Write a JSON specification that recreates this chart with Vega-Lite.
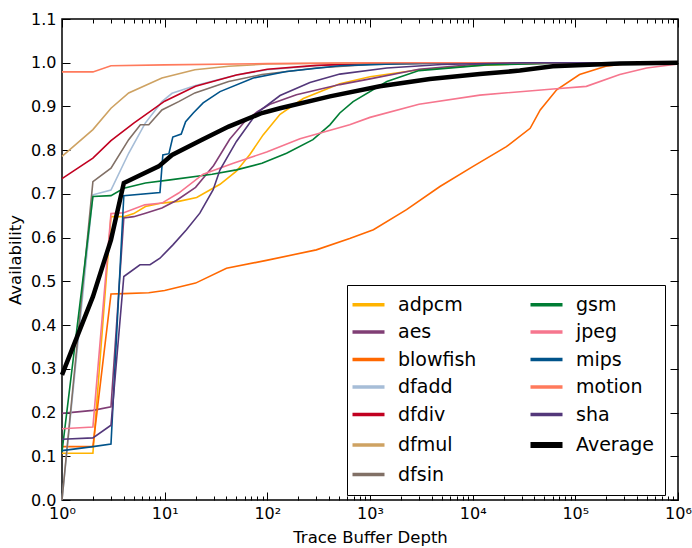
{
  "$schema": "https://vega.github.io/schema/vega-lite/v6.json",
  "width": 616,
  "height": 481,
  "autosize": {"type": "none"},
  "padding": {"left": 62, "top": 19, "right": 14, "bottom": 48},
  "background": "white",
  "config": {
    "font": "DejaVu Sans",
    "view": {"stroke": "black", "strokeWidth": 1.5},
    "axis": {"grid": false, "domain": false, "tickColor": "black", "tickWidth": 1, "labelColor": "black", "titleColor": "black", "labelFont": "DejaVu Sans", "titleFont": "DejaVu Sans", "titleFontWeight": "normal", "labelFontSize": 16, "titleFontSize": 16.5, "labelOverlap": false, "labelFlush": false}
  },
  "data": {"values": [
    {"s":"adpcm","x":1,"y":0.107},{"s":"adpcm","x":2,"y":0.107},{"s":"adpcm","x":3,"y":0.648},{"s":"adpcm","x":4,"y":0.648},{"s":"adpcm","x":5,"y":0.655},{"s":"adpcm","x":6.5,"y":0.671},{"s":"adpcm","x":9.4,"y":0.679},{"s":"adpcm","x":13.7,"y":0.683},{"s":"adpcm","x":20.5,"y":0.692},{"s":"adpcm","x":34.6,"y":0.722},{"s":"adpcm","x":50,"y":0.752},{"s":"adpcm","x":67.6,"y":0.79},{"s":"adpcm","x":91,"y":0.835},{"s":"adpcm","x":133,"y":0.882},{"s":"adpcm","x":224,"y":0.918},{"s":"adpcm","x":508,"y":0.952},{"s":"adpcm","x":1000,"y":0.968},{"s":"adpcm","x":3000,"y":0.984},{"s":"adpcm","x":10000,"y":0.993},{"s":"adpcm","x":30000,"y":0.998},{"s":"adpcm","x":100000,"y":1.0},{"s":"adpcm","x":1000000,"y":1.0},
    {"s":"aes","x":1,"y":0.198},{"s":"aes","x":2,"y":0.205},{"s":"aes","x":3,"y":0.213},{"s":"aes","x":4,"y":0.645},{"s":"aes","x":5,"y":0.648},{"s":"aes","x":6.5,"y":0.656},{"s":"aes","x":9.4,"y":0.668},{"s":"aes","x":13,"y":0.685},{"s":"aes","x":20,"y":0.715},{"s":"aes","x":30,"y":0.765},{"s":"aes","x":43,"y":0.825},{"s":"aes","x":60,"y":0.865},{"s":"aes","x":80,"y":0.888},{"s":"aes","x":106,"y":0.905},{"s":"aes","x":192,"y":0.927},{"s":"aes","x":508,"y":0.95},{"s":"aes","x":1000,"y":0.963},{"s":"aes","x":3000,"y":0.985},{"s":"aes","x":10000,"y":0.996},{"s":"aes","x":100000,"y":1.0},{"s":"aes","x":1000000,"y":1.0},
    {"s":"blowfish","x":1,"y":0.122},{"s":"blowfish","x":2,"y":0.122},{"s":"blowfish","x":3,"y":0.471},{"s":"blowfish","x":4,"y":0.472},{"s":"blowfish","x":7,"y":0.474},{"s":"blowfish","x":10,"y":0.479},{"s":"blowfish","x":20,"y":0.496},{"s":"blowfish","x":40,"y":0.53},{"s":"blowfish","x":98,"y":0.548},{"s":"blowfish","x":300,"y":0.572},{"s":"blowfish","x":634,"y":0.598},{"s":"blowfish","x":1080,"y":0.618},{"s":"blowfish","x":2270,"y":0.664},{"s":"blowfish","x":4800,"y":0.717},{"s":"blowfish","x":10100,"y":0.763},{"s":"blowfish","x":21300,"y":0.808},{"s":"blowfish","x":36300,"y":0.85},{"s":"blowfish","x":45500,"y":0.892},{"s":"blowfish","x":65800,"y":0.938},{"s":"blowfish","x":110000,"y":0.973},{"s":"blowfish","x":198000,"y":0.992},{"s":"blowfish","x":316000,"y":0.998},{"s":"blowfish","x":1000000,"y":1.0},
    {"s":"dfadd","x":1,"y":0.0},{"s":"dfadd","x":2,"y":0.698},{"s":"dfadd","x":3,"y":0.709},{"s":"dfadd","x":4.46,"y":0.793},{"s":"dfadd","x":6.47,"y":0.862},{"s":"dfadd","x":9.4,"y":0.911},{"s":"dfadd","x":11.8,"y":0.93},{"s":"dfadd","x":20,"y":0.948},{"s":"dfadd","x":50,"y":0.972},{"s":"dfadd","x":100,"y":0.984},{"s":"dfadd","x":300,"y":0.993},{"s":"dfadd","x":1000,"y":0.998},{"s":"dfadd","x":10000,"y":1.0},{"s":"dfadd","x":1000000,"y":1.0},
    {"s":"dfdiv","x":1,"y":0.735},{"s":"dfdiv","x":2,"y":0.782},{"s":"dfdiv","x":3,"y":0.822},{"s":"dfdiv","x":5,"y":0.862},{"s":"dfdiv","x":10,"y":0.912},{"s":"dfdiv","x":20,"y":0.946},{"s":"dfdiv","x":50,"y":0.972},{"s":"dfdiv","x":100,"y":0.985},{"s":"dfdiv","x":300,"y":0.994},{"s":"dfdiv","x":1000,"y":0.998},{"s":"dfdiv","x":10000,"y":1.0},{"s":"dfdiv","x":1000000,"y":1.0},
    {"s":"dfmul","x":1,"y":0.786},{"s":"dfmul","x":2,"y":0.847},{"s":"dfmul","x":3,"y":0.896},{"s":"dfmul","x":4.46,"y":0.931},{"s":"dfmul","x":9.4,"y":0.965},{"s":"dfmul","x":19.7,"y":0.984},{"s":"dfmul","x":42,"y":0.992},{"s":"dfmul","x":100,"y":0.997},{"s":"dfmul","x":1000,"y":1.0},{"s":"dfmul","x":1000000,"y":1.0},
    {"s":"dfsin","x":1,"y":0.0},{"s":"dfsin","x":2,"y":0.728},{"s":"dfsin","x":3,"y":0.759},{"s":"dfsin","x":4.46,"y":0.824},{"s":"dfsin","x":5.8,"y":0.858},{"s":"dfsin","x":7,"y":0.858},{"s":"dfsin","x":9.4,"y":0.892},{"s":"dfsin","x":13.7,"y":0.911},{"s":"dfsin","x":19.7,"y":0.931},{"s":"dfsin","x":42,"y":0.957},{"s":"dfsin","x":88.6,"y":0.973},{"s":"dfsin","x":300,"y":0.988},{"s":"dfsin","x":1000,"y":0.996},{"s":"dfsin","x":10000,"y":1.0},{"s":"dfsin","x":1000000,"y":1.0},
    {"s":"gsm","x":1,"y":0.11},{"s":"gsm","x":2,"y":0.694},{"s":"gsm","x":3,"y":0.696},{"s":"gsm","x":4,"y":0.713},{"s":"gsm","x":6.5,"y":0.725},{"s":"gsm","x":11.3,"y":0.732},{"s":"gsm","x":29,"y":0.745},{"s":"gsm","x":50,"y":0.755},{"s":"gsm","x":88.6,"y":0.77},{"s":"gsm","x":154,"y":0.793},{"s":"gsm","x":278,"y":0.824},{"s":"gsm","x":407,"y":0.858},{"s":"gsm","x":508,"y":0.885},{"s":"gsm","x":685,"y":0.911},{"s":"gsm","x":1460,"y":0.957},{"s":"gsm","x":3000,"y":0.982},{"s":"gsm","x":13600,"y":0.995},{"s":"gsm","x":100000,"y":1.0},{"s":"gsm","x":1000000,"y":1.0},
    {"s":"jpeg","x":1,"y":0.163},{"s":"jpeg","x":2,"y":0.167},{"s":"jpeg","x":3,"y":0.655},{"s":"jpeg","x":4,"y":0.657},{"s":"jpeg","x":6.4,"y":0.675},{"s":"jpeg","x":9.4,"y":0.679},{"s":"jpeg","x":13.7,"y":0.702},{"s":"jpeg","x":23.7,"y":0.745},{"s":"jpeg","x":46.6,"y":0.77},{"s":"jpeg","x":98.5,"y":0.796},{"s":"jpeg","x":208,"y":0.826},{"s":"jpeg","x":634,"y":0.858},{"s":"jpeg","x":1000,"y":0.875},{"s":"jpeg","x":3000,"y":0.905},{"s":"jpeg","x":11750,"y":0.926},{"s":"jpeg","x":60800,"y":0.94},{"s":"jpeg","x":128000,"y":0.946},{"s":"jpeg","x":271000,"y":0.973},{"s":"jpeg","x":495000,"y":0.988},{"s":"jpeg","x":1000000,"y":0.997},
    {"s":"mips","x":1,"y":0.113},{"s":"mips","x":2,"y":0.122},{"s":"mips","x":3,"y":0.128},{"s":"mips","x":4,"y":0.696},{"s":"mips","x":9,"y":0.703},{"s":"mips","x":9.6,"y":0.789},{"s":"mips","x":11,"y":0.792},{"s":"mips","x":12,"y":0.83},{"s":"mips","x":14.5,"y":0.837},{"s":"mips","x":16,"y":0.865},{"s":"mips","x":19,"y":0.885},{"s":"mips","x":23.7,"y":0.908},{"s":"mips","x":34.6,"y":0.934},{"s":"mips","x":73,"y":0.965},{"s":"mips","x":154,"y":0.98},{"s":"mips","x":508,"y":0.993},{"s":"mips","x":2000,"y":0.998},{"s":"mips","x":10000,"y":1.0},{"s":"mips","x":1000000,"y":1.0},
    {"s":"motion","x":1,"y":0.979},{"s":"motion","x":2,"y":0.979},{"s":"motion","x":3,"y":0.993},{"s":"motion","x":10,"y":0.995},{"s":"motion","x":100,"y":0.998},{"s":"motion","x":1000,"y":1.0},{"s":"motion","x":1000000,"y":1.0},
    {"s":"sha","x":1,"y":0.139},{"s":"sha","x":2,"y":0.142},{"s":"sha","x":3,"y":0.171},{"s":"sha","x":4,"y":0.511},{"s":"sha","x":5.75,"y":0.538},{"s":"sha","x":7.2,"y":0.538},{"s":"sha","x":9,"y":0.553},{"s":"sha","x":12.1,"y":0.584},{"s":"sha","x":16.3,"y":0.618},{"s":"sha","x":22,"y":0.656},{"s":"sha","x":29.6,"y":0.709},{"s":"sha","x":34.6,"y":0.755},{"s":"sha","x":50,"y":0.82},{"s":"sha","x":78.8,"y":0.885},{"s":"sha","x":133,"y":0.925},{"s":"sha","x":260,"y":0.955},{"s":"sha","x":508,"y":0.974},{"s":"sha","x":1460,"y":0.988},{"s":"sha","x":5000,"y":0.996},{"s":"sha","x":30000,"y":1.0},{"s":"sha","x":1000000,"y":1.0},
    {"s":"Average","x":1,"y":0.286},{"s":"Average","x":2,"y":0.465},{"s":"Average","x":3,"y":0.595},{"s":"Average","x":4,"y":0.725},{"s":"Average","x":8.74,"y":0.763},{"s":"Average","x":11.8,"y":0.789},{"s":"Average","x":23.1,"y":0.824},{"s":"Average","x":42,"y":0.854},{"s":"Average","x":88.6,"y":0.885},{"s":"Average","x":132.7,"y":0.896},{"s":"Average","x":407,"y":0.923},{"s":"Average","x":1248,"y":0.946},{"s":"Average","x":3830,"y":0.963},{"s":"Average","x":11750,"y":0.974},{"s":"Average","x":28800,"y":0.982},{"s":"Average","x":60300,"y":0.992},{"s":"Average","x":271000,"y":0.998},{"s":"Average","x":1000000,"y":1.0}
  ]},
  "layer": [
    {
      "mark": {"type": "line"},
      "encoding": {
        "x": {"field": "x", "type": "quantitative",
          "scale": {"type": "log", "domain": [1, 1000000], "nice": false},
          "axis": {"orient": "bottom", "title": "Trace Buffer Depth", "titlePadding": 4,
            "values": [1,2,3,4,5,6,7,8,9,10,20,30,40,50,60,70,80,90,100,200,300,400,500,600,700,800,900,1000,2000,3000,4000,5000,6000,7000,8000,9000,10000,20000,30000,40000,50000,60000,70000,80000,90000,100000,200000,300000,400000,500000,600000,700000,800000,900000,1000000],
            "labelExpr": "abs(log(datum.value)/LN10 - round(log(datum.value)/LN10)) < 0.001 ? '10' + ['⁰','¹','²','³','⁴','⁵','⁶'][round(log(datum.value)/LN10)] : ''",
            "tickSize": {"condition": {"test": "abs(log(datum.value)/LN10 - round(log(datum.value)/LN10)) < 0.001", "value": -8}, "value": -4},
            "labelPadding": 13}},
        "y": {"field": "y", "type": "quantitative",
          "scale": {"domain": [0, 1.1], "nice": false, "zero": false},
          "axis": {"orient": "left", "title": "Availability", "values": [0,0.1,0.2,0.3,0.4,0.5,0.6,0.7,0.8,0.9,1.0,1.1], "format": ".1f", "tickSize": -8, "labelPadding": 14, "titlePadding": 7}},
        "color": {"field": "s", "type": "nominal",
          "scale": {"domain": ["adpcm","aes","blowfish","dfadd","dfdiv","dfmul","dfsin","gsm","jpeg","mips","motion","sha","Average"],
                    "range": ["#FFB300","#803E75","#FF6800","#A6BDD7","#C10020","#CEA262","#817066","#007D34","#F6768E","#00538A","#FF7A5C","#53377A","#000000"]},
          "legend": {"title": null, "orient": "none", "legendX": 285, "legendY": 266, "columns": 2, "symbolType": "stroke", "symbolSize": 1024, "symbolStrokeWidth": 3.5, "symbolOffset": 2, "labelFontSize": 19, "labelFont": "DejaVu Sans", "labelColor": "black", "labelOffset": 20, "columnPadding": 41, "rowPadding": 7.5, "padding": 10, "strokeColor": "black", "fillColor": "white", "labelLimit": 0,
            "encode": {"symbols": {"update": {"strokeWidth": {"signal": "datum.value === 'Average' ? 6 : 3.5"}}}}}},
        "strokeWidth": {"condition": {"test": "datum.s === 'Average'", "value": 4.5}, "value": 1.6}
      }
    },
    {
      "mark": {"type": "line", "opacity": 0},
      "encoding": {
        "x": {"field": "x", "type": "quantitative",
          "axis": {"orient": "top", "title": null, "labels": false,
            "values": [1,2,3,4,5,6,7,8,9,10,20,30,40,50,60,70,80,90,100,200,300,400,500,600,700,800,900,1000,2000,3000,4000,5000,6000,7000,8000,9000,10000,20000,30000,40000,50000,60000,70000,80000,90000,100000,200000,300000,400000,500000,600000,700000,800000,900000,1000000],
            "tickSize": {"condition": {"test": "abs(log(datum.value)/LN10 - round(log(datum.value)/LN10)) < 0.001", "value": -8}, "value": -4}}},
        "y": {"field": "y", "type": "quantitative",
          "axis": {"orient": "right", "title": null, "labels": false, "values": [0,0.1,0.2,0.3,0.4,0.5,0.6,0.7,0.8,0.9,1.0,1.1], "tickSize": -8}},
        "detail": {"field": "s", "type": "nominal"}
      }
    }
  ],
  "resolve": {"axis": {"x": "independent", "y": "independent"}}
}
